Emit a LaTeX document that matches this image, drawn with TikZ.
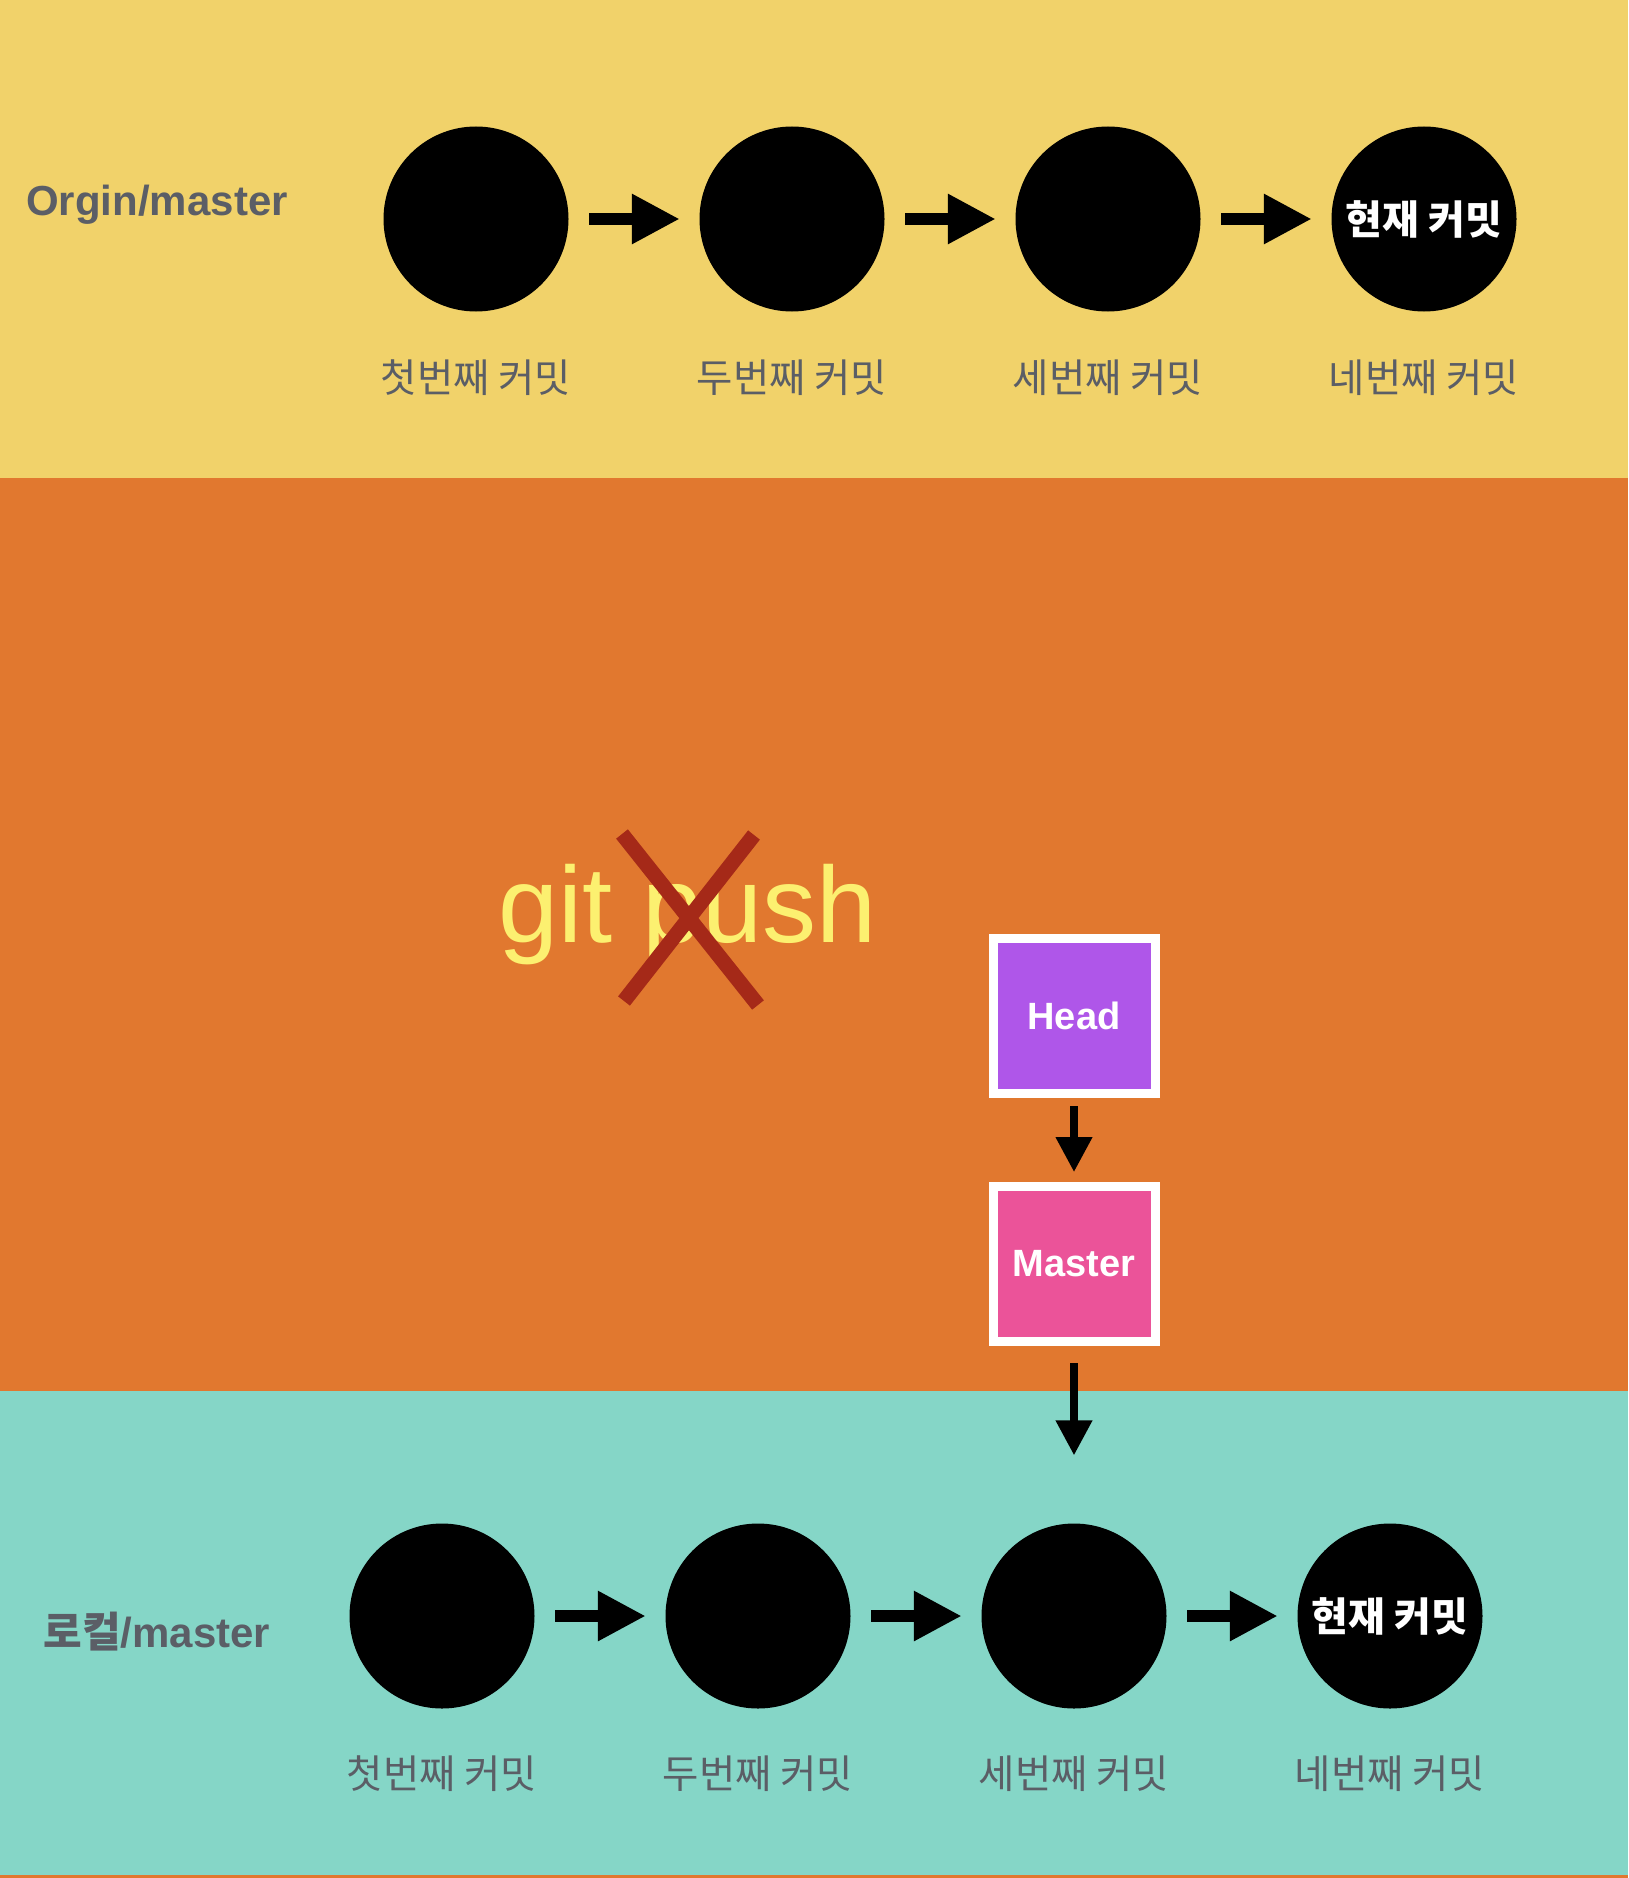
\documentclass[tikz,border=0pt]{standalone}
\usepackage{fontspec}
\setmainfont{Liberation Sans}
\newfontfamily\kr{Noto Sans CJK KR}
\usetikzlibrary{arrows.meta,positioning}
\definecolor{originband}{HTML}{F1D26A}
\definecolor{pushband}{HTML}{E1782F}
\definecolor{localband}{HTML}{85D6C7}
\definecolor{headfill}{HTML}{AF56E9}
\definecolor{masterfill}{HTML}{EB5399}
\definecolor{crossred}{HTML}{A52918}
\definecolor{pushtext}{HTML}{FCF070}
\definecolor{labelgray}{HTML}{5B5E66}
\tikzset{
  commit/.style={circle, fill=black, minimum size=185pt, inner sep=0pt,
                 text=white, font=\kr\bfseries\fontsize{40}{44}\selectfont},
  commitlabel/.style={text=labelgray, font=\kr\fontsize{39.5}{43}\selectfont},
  branchlabel/.style={text=labelgray, anchor=base, font=\bfseries\fontsize{42}{46}\selectfont},
  refbox/.style={draw=white, line width=9pt, minimum width=162pt, minimum height=155pt,
                 inner sep=0pt, text=white, font=\bfseries\fontsize{38}{42}\selectfont},
  nextarrow/.style={line width=12pt, -{Triangle[length=48pt,width=47pt]},
                    shorten <=20.5pt, shorten >=19.5pt},
  refarrow/.style={line width=7.5pt, -{Triangle[length=35pt,width=35pt]}},
  crossline/.style={crossred, line width=15pt},
}

\begin{document}
\begin{tikzpicture}[x=1pt, y=-1pt]
    \useasboundingbox (0,0) rectangle (1628,1878);
    \fill[pushband] (0,0) rectangle (1628,1878);
    \fill[originband] (0,0) rectangle (1628,478);
    \fill[localband] (0,1391) rectangle (1628,1875);

    \node[branchlabel] (origin) at (157,216) {Orgin/master};
    \node[commit] (o1) at (476,219) {};
    \node[commit] (o2) at (792,219) {};
    \node[commit] (o3) at (1108,219) {};
    \node[commit] (o4) at (1424,219) {현재 커밋};
    \node[commitlabel] (o1label) at (476,378) {첫번째 커밋};
    \node[commitlabel] (o2label) at (792,378) {두번째 커밋};
    \node[commitlabel] (o3label) at (1108,378) {세번째 커밋};
    \node[commitlabel] (o4label) at (1424,378) {네번째 커밋};
    \draw[nextarrow] (o1) -- (o2);
    \draw[nextarrow] (o2) -- (o3);
    \draw[nextarrow] (o3) -- (o4);

    \node[text=pushtext, anchor=base, font=\fontsize{108}{112}\selectfont] (push) at (688,942) {git push};
    \draw[crossline] (622,834) -- (758,1005);
    \draw[crossline] (754,835) -- (624,1001);

    \node[refbox, fill=headfill] (head) at (1074,1016) {Head};
    \node[refbox, fill=masterfill, below=84pt of head] (master) {Master};

    \node[branchlabel] (local) at (157,1647) {{\kr 로컬}/master};
    \node[commit] (l1) at (442,1616) {};
    \node[commit] (l2) at (758,1616) {};
    \node[commit] (l3) at (1074,1616) {};
    \node[commit] (l4) at (1390,1616) {현재 커밋};
    \node[commitlabel] (l1label) at (442,1774) {첫번째 커밋};
    \node[commitlabel] (l2label) at (758,1774) {두번째 커밋};
    \node[commitlabel] (l3label) at (1074,1774) {세번째 커밋};
    \node[commitlabel] (l4label) at (1390,1774) {네번째 커밋};
    \draw[nextarrow] (l1) -- (l2);
    \draw[nextarrow] (l2) -- (l3);
    \draw[nextarrow] (l3) -- (l4);

    \draw[refarrow, shorten <=8pt, shorten >=10pt] (head) -- (master);
    \draw[refarrow, shorten <=17pt, shorten >=68pt] (master) -- (l3);
  \end{tikzpicture}
\end{document}
